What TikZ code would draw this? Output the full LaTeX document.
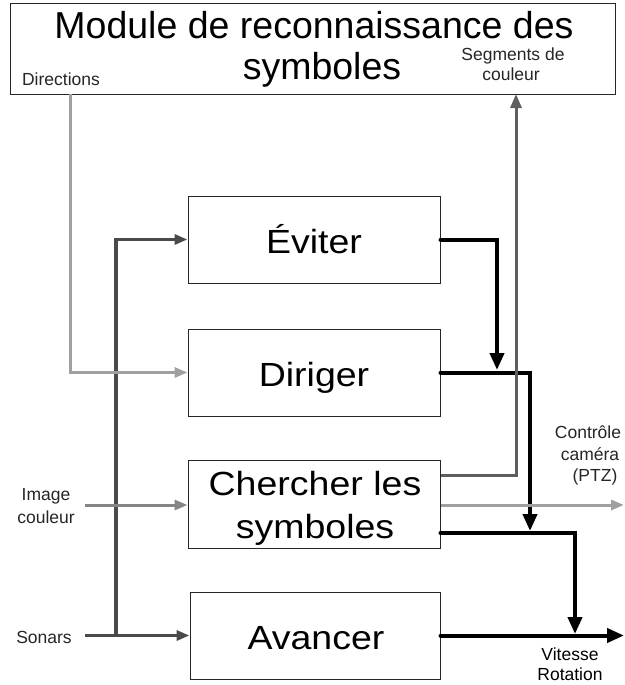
\documentclass[tikz,border=0pt]{standalone}
\usepackage{fontspec}
\setmainfont{Liberation Sans}
\newfontfamily\boxfont[FakeStretch=1.12]{Liberation Sans}
\usetikzlibrary{arrows.meta}
\definecolor{lgray}{HTML}{A0A0A0}
\definecolor{mgray}{HTML}{858585}
\definecolor{dgray}{HTML}{4A4A4A}
\definecolor{sgray}{HTML}{5E5E5E}
\begin{document}
\begin{tikzpicture}[x=1pt,y=-1pt,
  modbox/.style={draw=black!85, line width=1pt, inner sep=0pt},
  title/.style={font=\fontsize{37.5}{40}\selectfont, anchor=base, inner sep=0pt},
  boxtext/.style={font=\boxfont\fontsize{33.5}{36}\selectfont, anchor=base, inner sep=0pt},
  lbl/.style={font=\fontsize{17.5}{19}\selectfont, text=black!85, anchor=base, inner sep=0pt},
  blk/.style={line width=4pt, black, line cap=round, -{Triangle[length=17pt,width=14pt]}},
  lgr/.style={line width=3pt, lgray, -{Triangle[length=13pt,width=10pt]}},
  mgr/.style={line width=3pt, mgray, -{Triangle[length=13pt,width=10pt]}},
  dgr/.style={line width=3.5pt, dgray, -{Triangle[length=13pt,width=10pt]}},
  sgr/.style={line width=3pt, sgray, -{Triangle[length=14pt,width=11pt]}}
]
\useasboundingbox[fill=white] (0,0) rectangle (624,685);

% boxes
\node[modbox, minimum width=605pt, minimum height=90pt] (mod) at (312.5,49) {};
\node[modbox, minimum width=252pt, minimum height=87pt] (evit) at (314,239.5) {};
\node[modbox, minimum width=252pt, minimum height=87pt] (dir) at (314,372.5) {};
\node[modbox, minimum width=252pt, minimum height=88pt] (cher) at (314,504) {};
\node[modbox, minimum width=250pt, minimum height=87pt] (avan) at (315,635.5) {};

% box texts
\node[title] (t1) at (314,38) {Module de reconnaissance des};
\node[title] (t2) at (322,80) {symboles};
\node[boxtext] (te) at (314,253) {Éviter};
\node[boxtext] (td) at (314,386) {Diriger};
\node[boxtext] (tc1) at (315,495) {Chercher les};
\node[boxtext] (tc2) at (315,538) {symboles};
\node[boxtext] (ta) at (316,649) {Avancer};

% labels
\node[lbl] (ldir) at (61,85) {Directions};
\node[lbl] (lseg1) at (513,60) {Segments de};
\node[lbl] (lseg2) at (511,81) {couleur};
\node[lbl] (lptz1) at (588,438) {Contrôle};
\node[lbl] (lptz2) at (590,460) {caméra};
\node[lbl] (lptz3) at (595,481) {(PTZ)};
\node[lbl] (limg1) at (46,500) {Image};
\node[lbl] (limg2) at (46,523) {couleur};
\node[lbl] (lson) at (44,643) {Sonars};
\node[lbl, text=black] (lvit1) at (570,660) {Vitesse};
\node[lbl, text=black] (lvit2) at (570,680) {Rotation};

% coordinates
\coordinate (dtop) at (70,94);
\coordinate (son0) at (85,635.5);
\coordinate (bus) at (116,635.5);
\coordinate (img0) at (85,505);
\coordinate (j1) at (497,370);
\coordinate (j2) at (530,531);
\coordinate (seg) at (516,94);
\coordinate (ptz) at (624,505);
\coordinate (j3) at (575,634);
\coordinate (vit) at (624,635.5);

% black outputs
\draw[blk] (evit.east) -| (j1);
\draw[blk] (dir.east) -| (j2);
\draw[blk] ([yshift=-29pt]cher.east) -| (j3);
\draw[blk] (avan.east) -- (vit);

% gray connectors
\draw[sgr] ([yshift=29pt]cher.east) -| (seg);
\draw[dgr] (son0) -- (avan.west);
\draw[dgr] (bus) |- (evit.west);
\draw[lgr] (dtop) |- (dir.west);
\draw[mgr] (img0) -- ([yshift=-1pt]cher.west);
\draw[lgr] ([yshift=-1pt]cher.east) -- (ptz);
\end{tikzpicture}
\end{document}
